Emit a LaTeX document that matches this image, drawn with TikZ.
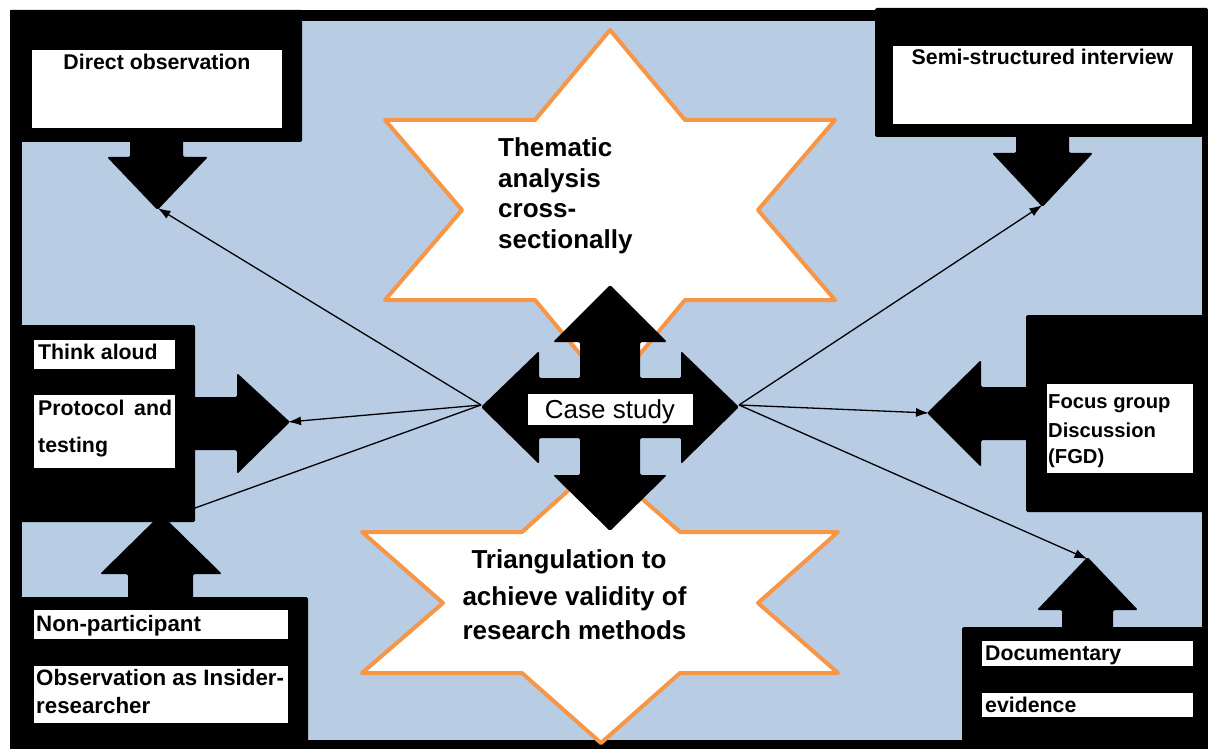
\documentclass[tikz,border=0pt]{standalone}
\usepackage{fontspec}
\setmainfont{Liberation Sans}
\usetikzlibrary{arrows.meta}
\definecolor{bgblue}{RGB}{184,204,228}
\definecolor{starorange}{RGB}{247,150,70}
\begin{document}
\begin{tikzpicture}[x=1pt,y=-1pt,
  boxtext/.style={inner sep=0pt, font=\bfseries\fontsize{21.3}{25}\selectfont},
  fgtext/.style={inner sep=0pt, font=\bfseries\fontsize{20.2}{24}\selectfont},
  nptext/.style={inner sep=0pt, font=\bfseries\fontsize{22.3}{26}\selectfont},
  startext/.style={inner sep=0pt, font=\bfseries\fontsize{26}{30}\selectfont},
  casetext/.style={inner sep=0pt, font=\fontsize{26}{30}\selectfont},
  blackbox/.style={fill=black, rounded corners=1.5pt},
  whitebox/.style={fill=white},
  blockarrow/.style={fill=black, rounded corners=1.5pt},
  starshape/.style={draw=starorange, line width=4pt, fill=white, line join=round},
  link/.style={line width=1.3pt, -{Latex[length=13pt,width=9pt]}},
  plainlink/.style={line width=1.3pt},
]
\useasboundingbox (0,0) rectangle (1208,749);
\fill[white] (0,0) rectangle (1208,749);

% outer frame and light-blue field
\fill[black] (10,10) rectangle (1208,749);
\fill[bgblue] (22,21) rectangle (1202,740);

% the two six-pointed stars
\draw[starshape] (610,30) -- (685,120) -- (835,120) -- (758,210) -- (835,300)
  -- (685,300) -- (610,390) -- (535,300) -- (385,300) -- (462,210) -- (385,120)
  -- (535,120) -- cycle;
\draw[starshape] (600,462) -- (680,532) -- (838,532) -- (758,603) -- (838,673)
  -- (680,673) -- (601,743) -- (522,673) -- (362,673) -- (443,603) -- (362,532)
  -- (522,532) -- cycle;
\node[startext, anchor=base west] (th1) at (498,157) {Thematic};
\node[startext, anchor=base west] (th2) at (498,188) {analysis};
\node[startext, anchor=base west] (th3) at (498,218) {cross-};
\node[startext, anchor=base west] (th4) at (498,248) {sectionally};
\node[startext, anchor=base] (tr1) at (569,568) {Triangulation to};
\node[startext, anchor=base] (tr2) at (574.5,605) {achieve validity of};
\node[startext, anchor=base] (tr3) at (574.5,639) {research methods};

% black method boxes
\fill[blackbox] (10,10) rectangle (302,142);
\fill[blackbox] (875,8) rectangle (1208,137);
\fill[blackbox] (10,325) rectangle (195,522);
\fill[blackbox] (1026,315) rectangle (1208,512);
\fill[blackbox] (10,597) rectangle (308,749);
\fill[blackbox] (962,627) rectangle (1208,749);

% block arrows leaving the boxes
\fill[blockarrow] (130,140) -- (130,157) -- (107,157) -- (157.5,210) -- (208,157)
  -- (183,157) -- (183,140) -- cycle;
\coordinate (doTip) at (157.5,208);
\fill[blockarrow] (1016,135) -- (1016,153) -- (992,153) -- (1042.5,207) -- (1093,153)
  -- (1069,153) -- (1069,135) -- cycle;
\coordinate (ssTip) at (1042.5,205);
\fill[blockarrow] (193,397) -- (237,397) -- (237,373) -- (290,422) -- (237,474)
  -- (237,450) -- (193,450) -- cycle;
\coordinate (taTip) at (288,422);
\coordinate (taCorner) at (195,508);
\fill[blockarrow] (1028,387) -- (981,387) -- (981,360) -- (927,413) -- (981,467)
  -- (981,440) -- (1028,440) -- cycle;
\coordinate (fgTip) at (929,413);
\fill[blockarrow] (128,599) -- (128,574) -- (100,574) -- (161,514) -- (222,574)
  -- (193,574) -- (193,599) -- cycle;
\fill[blockarrow] (1062,629) -- (1062,610) -- (1037,610) -- (1087.5,557) -- (1138,610)
  -- (1113,610) -- (1113,629) -- cycle;
\coordinate (deTip) at (1087.5,559);

% four-way arrow in the centre
\fill[blockarrow] (610,285) -- (667,342) -- (640,342) -- (640,378) -- (681,378)
  -- (681,351) -- (739,407) -- (681,464) -- (681,438) -- (640,438) -- (640,475)
  -- (667,475) -- (610,531) -- (553,475) -- (580,475) -- (580,438) -- (539,438)
  -- (539,464) -- (481,407) -- (539,351) -- (539,378) -- (580,378) -- (580,342)
  -- (553,342) -- cycle;
\coordinate (csL) at (481,405);
\coordinate (csR) at (739,405);
\fill[whitebox] (528,394) rectangle (693,425);
\node[casetext, anchor=base] (cs) at (610,418) {Case study};

% white text panels
\fill[whitebox] (32,50) rectangle (282,128);
\fill[whitebox] (893,46) rectangle (1192,124);
\fill[whitebox] (34,340) rectangle (175,369);
\fill[whitebox] (34,395) rectangle (175,468);
\fill[whitebox] (1047,384) rectangle (1193,473);
\fill[whitebox] (34,610) rectangle (288,639);
\fill[whitebox] (34,666) rectangle (288,723);
\fill[whitebox] (982,641) rectangle (1193,666);
\fill[whitebox] (982,693) rectangle (1193,717);

% labels
\node[boxtext, anchor=base] (tDO) at (157,70) {Direct observation};
\node[boxtext, anchor=base] (tSS) at (1042.5,65) {Semi-structured interview};
\node[boxtext, anchor=base west] (tTA1) at (38,359) {Think aloud};
\node[boxtext, anchor=base west] (tTA2) at (38,415) {Protocol\hspace{0.45em}and};
\node[boxtext, anchor=base west] (tTA3) at (38,452) {testing};
\node[fgtext, anchor=base west] (tFG1) at (1048,408) {Focus group};
\node[fgtext, anchor=base west] (tFG2) at (1048,437) {Discussion};
\node[fgtext, anchor=base west] (tFG3) at (1048,463) {(FGD)};
\node[nptext, anchor=base west] (tNP1) at (36,631) {Non-participant};
\node[nptext, anchor=base west] (tNP2) at (36,685) {Observation as Insider-};
\node[nptext, anchor=base west] (tNP3) at (36,713) {researcher};
\node[boxtext, anchor=base west] (tDE1) at (985,660) {Documentary};
\node[boxtext, anchor=base west] (tDE2) at (985,712) {evidence};

% thin connectors from the case study
\draw[link] (csL) -- (doTip);
\draw[link] (csL) -- (taTip);
\draw[plainlink] (csL) -- (taCorner);
\draw[link] (csR) -- (ssTip);
\draw[link] (csR) -- (fgTip);
\draw[link] (csR) -- (deTip);
\end{tikzpicture}
\end{document}
